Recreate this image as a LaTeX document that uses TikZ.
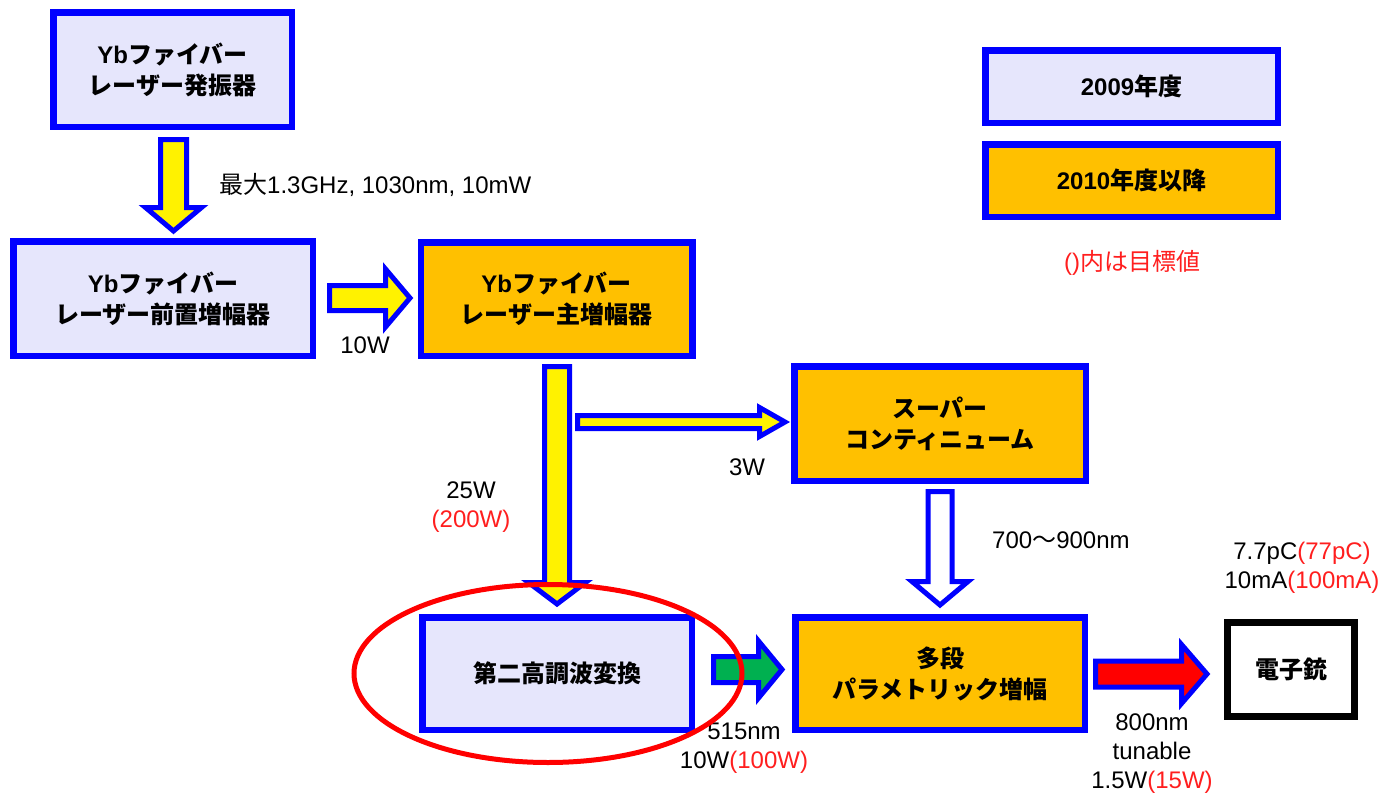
\documentclass[tikz,border=0pt]{standalone}
\usepackage{fontspec}
\setmainfont{Liberation Sans}
\newfontfamily\jp{Noto Sans CJK JP}
\definecolor{lav}{RGB}{230,230,252}
\definecolor{amber}{RGB}{255,192,0}
\definecolor{bblue}{RGB}{0,0,255}
\definecolor{ggreen}{RGB}{0,176,80}
\definecolor{rred}{RGB}{255,0,0}
\definecolor{tred}{RGB}{255,30,30}
% vertical block arrow: cx, y1, ybase, ytip, shaft half, head half, fill
\newcommand\vblk[7]{%
  \draw[blk,fill=#7] (#1-#5,#2) -- (#1+#5,#2) -- (#1+#5,#3) -- (#1+#6,#3) -- (#1,#4) -- (#1-#6,#3) -- (#1-#5,#3) -- cycle;}
% horizontal block arrow: cy, x1, xbase, xtip, shaft half, head half, fill
\newcommand\hblk[7]{%
  \draw[blk,fill=#7] (#2,#1-#5) -- (#3,#1-#5) -- (#3,#1-#6) -- (#4,#1) -- (#3,#1+#6) -- (#3,#1+#5) -- (#2,#1+#5) -- cycle;}
\tikzset{
  box/.style={draw=bblue, line width=6.5pt, fill=lav, align=center, inner sep=0pt,
    font=\bfseries\fontsize{24}{31}\selectfont},
  newbox/.style={box, fill=amber},
  blk/.style={draw=bblue, line width=5pt, line join=miter},
  lbl/.style={font=\fontsize{24}{29}\selectfont, align=center, inner sep=0pt},
}
\begin{document}
\begin{tikzpicture}[x=1pt,y=-1pt]
\useasboundingbox (0,0) rectangle (1382,795);
% boxes
\node[box, minimum width=238.5pt, minimum height=114.5pt] (osc) at (172.5,69.5) {Yb{\jp ファイバー}\\{\jp レーザー発振器}};
\node[box, minimum width=299.5pt, minimum height=114.5pt] (pre) at (163,298.5) {Yb{\jp ファイバー}\\{\jp レーザー前置増幅器}};
\node[newbox, minimum width=271.5pt, minimum height=113.5pt] (main) at (556.5,299) {Yb{\jp ファイバー}\\{\jp レーザー主増幅器}};
\node[newbox, minimum width=291.5pt, minimum height=114.5pt] (sc) at (940,423.5) {{\jp スーパー}\\{\jp コンティニューム}};
\node[box, minimum width=269.5pt, minimum height=112.5pt] (shg) at (557,673.5) {{\jp 第二高調波変換}};
\node[newbox, minimum width=289.5pt, minimum height=112.5pt] (opa) at (940,673.5) {{\jp 多段}\\{\jp パラメトリック増幅}};
\node[box, draw=black, fill=white, line width=7pt, minimum width=127pt, minimum height=94pt] (gun) at (1291,669.5) {{\jp 電子銃}};
\node[box, minimum width=292.5pt, minimum height=72.5pt] (leg1) at (1131.5,86.5) {2009{\jp 年度}};
\node[newbox, minimum width=292.5pt, minimum height=72.5pt] (leg2) at (1131.5,180.5) {2010{\jp 年度以降}};
% block arrows
\vblk{173.5}{139.5}{207.5}{231}{13}{28}{yellow}
\hblk{298}{329.5}{385.5}{410}{12.5}{29}{yellow}
\vblk{557}{366.5}{582.5}{604}{12.5}{28.5}{yellow}
\hblk{422}{577.5}{759.5}{785}{6.5}{14.5}{yellow}
\vblk{940}{491.5}{581.5}{605}{12}{28}{white}
\hblk{669.5}{713.5}{758.5}{782}{13}{28.5}{ggreen}
\hblk{674}{1095.5}{1181.5}{1207}{13}{29.5}{rred}
% labels
\node[lbl, anchor=west] (l1) at (219,185) {{\jp 最大}1.3GHz, 1030nm, 10mW};
\node[lbl] (l2) at (365,345) {10W};
\node[lbl] (l3) at (747,467) {3W};
\node[lbl] (l4) at (471,507) {25W\\\textcolor{tred}{(200W)}};
\node[lbl, anchor=west] (l5) at (992,540) {700{\jp ～}900nm};
\node[lbl] (l6) at (744,748) {515nm\\10W\textcolor{tred}{(100W)}};
\node[lbl] (l7) at (1152,754) {800nm\\tunable\\1.5W\textcolor{tred}{(15W)}};
\node[lbl] (l8) at (1302,568) {7.7pC\textcolor{tred}{(77pC)}\\10mA\textcolor{tred}{(100mA)}};
\node[lbl, text=tred] (l9) at (1132,263) {(){\jp 内は目標値}};
% highlight ellipse
\draw[rred, line width=5pt] (548,673.5) ellipse [x radius=194, y radius=89];
\end{tikzpicture}
\end{document}
